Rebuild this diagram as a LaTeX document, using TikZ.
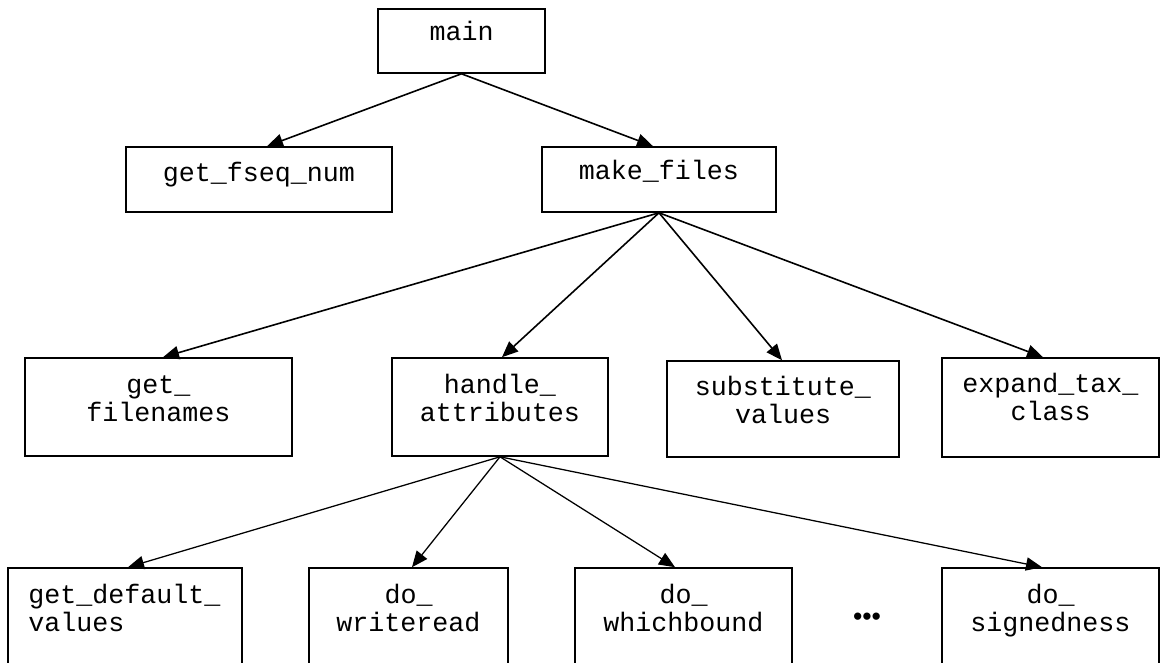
\documentclass[tikz,border=0pt]{standalone}
\usepackage{fontspec}
\setmonofont{Liberation Mono}
\newfontfamily\bulletfont{Liberation Sans}
\usetikzlibrary{arrows.meta,calc}
\begin{document}
\begin{tikzpicture}[x=0.75pt,y=-0.75pt,
  box/.style={draw, line width=1.2pt, inner sep=0pt},
  txt/.style={font=\fontsize{20pt}{19.5pt}\ttfamily\selectfont, inner sep=0pt, anchor=base},
  edgeup/.style={line width=1.2pt, -{Triangle[length=12pt,width=10pt]}},
  edgelow/.style={line width=0.95pt, -{Triangle[length=12pt,width=10pt]}}]
\useasboundingbox (0,0) rectangle (1160,663);
\clip (0,0) rectangle (1160,663);

% boxes
\node[box, minimum width=125.25pt, minimum height=48pt] (bmain) at (461.5,41) {};
\node[box, minimum width=199.5pt, minimum height=48.75pt] (bgfn) at (259,179.5) {};
\node[box, minimum width=175.5pt, minimum height=48.75pt] (bmf) at (659,179.5) {};
\node[box, minimum width=200.25pt, minimum height=73.5pt] (bgf) at (158.5,407) {};
\node[box, minimum width=162pt, minimum height=73.5pt] (bha) at (500,407) {};
\node[box, minimum width=174pt, minimum height=72pt] (bsv) at (783,409) {};
\node[box, minimum width=162.75pt, minimum height=74.25pt] (betc) at (1050.5,407.5) {};
\node[box, minimum width=175.5pt, minimum height=73.5pt] (bgdv) at (125,617) {};
\node[box, minimum width=149.25pt, minimum height=73.5pt] (bdw) at (408.5,617) {};
\node[box, minimum width=162.75pt, minimum height=73.5pt] (bdwb) at (683.5,617) {};
\node[box, minimum width=162.75pt, minimum height=73.5pt] (bds) at (1050.5,617) {};

% texts
\node[txt] (tmain) at (461.5,41) {main};
\node[txt] (tgfn) at (259,181) {get\_fseq\_num};
\node[txt] (tmf) at (659,180) {make\_files};
\node[txt] (tgf) at (158.5,421) {\begin{tabular}[b]{@{}c@{}}get\_\\filenames\end{tabular}};
\node[txt] (tha) at (500,421) {\begin{tabular}[b]{@{}c@{}}handle\_\\attributes\end{tabular}};
\node[txt] (tsv) at (783,423) {\begin{tabular}[b]{@{}c@{}}substitute\_\\values\end{tabular}};
\node[txt] (tetc) at (1050.5,420) {\begin{tabular}[b]{@{}c@{}}expand\_tax\_\\class\end{tabular}};
\node[txt] (tgdv) at (124.5,631) {\begin{tabular}[b]{@{}l@{}}get\_default\_\\values\end{tabular}};
\node[txt] (tdw) at (408.5,631) {\begin{tabular}[b]{@{}c@{}}do\_\\writeread\end{tabular}};
\node[txt] (tdwb) at (683.5,631) {\begin{tabular}[b]{@{}c@{}}do\_\\whichbound\end{tabular}};
\node[txt] (tds) at (1050.5,631) {\begin{tabular}[b]{@{}c@{}}do\_\\signedness\end{tabular}};
\node[inner sep=0pt, font=\fontsize{20pt}{24pt}\bulletfont\selectfont] (dots) at (867,619) {•••};

% edges
\draw[edgeup] (bmain.south) -- ($(bgfn.north)+(8,0)$);
\draw[edgeup] (bmain.south) -- ($(bmf.north)+(-6,0)$);
\draw[edgeup] (bmf.south) -- ($(bgf.north)+(4.5,0)$);
\draw[edgeup] (bmf.south) -- ($(bha.north)+(2,0)$);
\draw[edgeup] (bmf.south) -- ($(bsv.north)+(-1,0)$);
\draw[edgeup] (bmf.south) -- ($(betc.north)+(-7.5,0)$);
\draw[edgelow] (bha.south) -- ($(bgdv.north)+(3,0)$);
\draw[edgelow] (bha.south) -- ($(bdw.north)+(3.5,0)$);
\draw[edgelow] (bha.south) -- ($(bdwb.north)+(-8.5,0)$);
\draw[edgelow] (bha.south) -- ($(bds.north)+(-8.5,0)$);
\end{tikzpicture}
\end{document}
